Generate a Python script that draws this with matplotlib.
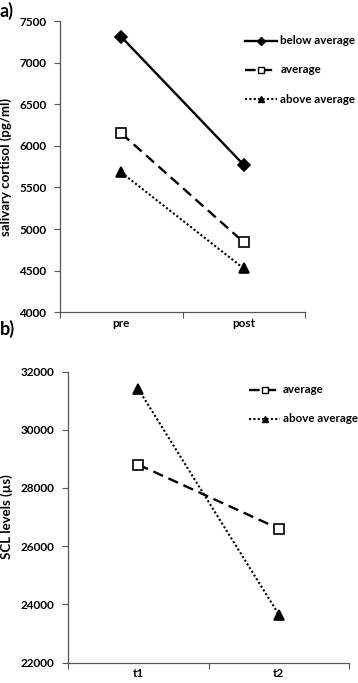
import matplotlib
matplotlib.use("Agg")
import matplotlib.pyplot as plt
from matplotlib.lines import Line2D

plt.rcParams["font.family"] = ["Lato", "DejaVu Sans"]
plt.rcParams["font.weight"] = "bold"

# --- données panneau a ---
cat_a = ["pre", "post"]
below_a = [7310, 5770]
avg_a = [6150, 4840]
above_a = [5680, 4525]
yticks_a = [4000, 4500, 5000, 5500, 6000, 6500, 7000, 7500]

# --- données panneau b ---
cat_b = ["t1", "t2"]
avg_b = [28800, 26600]
above_b = [31400, 23650]
yticks_b = [22000, 24000, 26000, 28000, 30000, 32000]

fig = plt.figure(figsize=(3.58, 6.83), dpi=100)
ax_a = fig.add_axes([0.168, 0.543, 0.684, 0.426])
ax_b = fig.add_axes([0.19, 0.030, 0.785, 0.426])

STYLES = {
    "below average": dict(ls="-", marker="D", mfc="black", ms=6, lw=1.7),
    "average": dict(ls=(0, (4.5, 2.5)), marker="s", mfc="white", ms=7, lw=1.7),
    "above average": dict(ls=(0, (1, 1.1)), marker="^", mfc="black", ms=7, lw=1.5),
}


def style_axe(ax, cats, yticks, ylabel):
    x = range(len(cats))
    ax.set_xlim(-0.5, len(cats) - 0.5)
    ax.set_ylim(yticks[0], yticks[-1])
    ax.set_yticks(yticks)
    ax.set_xticks([i - 0.5 for i in range(len(cats) + 1)])
    ax.set_xticklabels([])
    ax.set_xticks(list(x), cats, minor=True)
    ax.tick_params(axis="x", which="minor", length=0, pad=4, labelsize=8.5)
    ax.tick_params(axis="x", which="major", direction="out", length=4,
                   color="#555555")
    ax.tick_params(axis="y", length=4, labelsize=8.5, color="#555555", pad=6)
    for lab in ax.get_xticklabels(minor=True) + ax.get_yticklabels():
        lab.set_fontweight("bold")
    for s in ("top", "right"):
        ax.spines[s].set_visible(False)
    for s in ("left", "bottom"):
        ax.spines[s].set_color("#555555")
        ax.spines[s].set_linewidth(0.9)
    ax.set_ylabel(ylabel, fontsize=9.5, fontweight="bold", labelpad=5)


def legende(noms, x0, x1, ys):
    # légende dessinée à la main, en coordonnées figure (déborde des axes)
    for nom, y in zip(noms, ys):
        st = STYLES[nom]
        fig.add_artist(Line2D([x0, x1], [y, y], transform=fig.transFigure,
                              color="black", ls=st["ls"], lw=st["lw"]))
        fig.add_artist(Line2D([(x0 + x1) / 2], [y], transform=fig.transFigure,
                              marker=st["marker"], mfc=st["mfc"], mec="black",
                              ms=st["ms"] * 0.7, ls="none"))
        fig.text(x1 + 0.009, y, nom, fontsize=8.3, fontweight="bold",
                 va="center", ha="left")


# --- panneau a ---
xa = range(len(cat_a))
for nom, vals in (("below average", below_a), ("average", avg_a),
                  ("above average", above_a)):
    st = STYLES[nom]
    ax_a.plot(xa, vals, color="black", ls=st["ls"], lw=st["lw"],
              marker=st["marker"], mfc=st["mfc"], mec="black", ms=st["ms"],
              mew=1.2, clip_on=False)
style_axe(ax_a, cat_a, yticks_a, "salivary cortisol (pg/ml)")
legende(["below average", "average", "above average"], 0.684, 0.774,
        [0.940, 0.898, 0.855])
fig.text(0.0, 0.984, "a)", fontsize=13, fontweight="bold", va="center")

# --- panneau b ---
xb = range(len(cat_b))
for nom, vals in (("average", avg_b), ("above average", above_b)):
    st = STYLES[nom]
    ax_b.plot(xb, vals, color="black", ls=st["ls"], lw=st["lw"],
              marker=st["marker"], mfc=st["mfc"], mec="black", ms=st["ms"],
              mew=1.2, clip_on=False)
style_axe(ax_b, cat_b, yticks_b, "SCL levels (µs)")
legende(["average", "above average"], 0.696, 0.782, [0.429, 0.387])
fig.text(0.0, 0.519, "b)", fontsize=13, fontweight="bold", va="center")

fig.savefig("out.png", dpi=100)
